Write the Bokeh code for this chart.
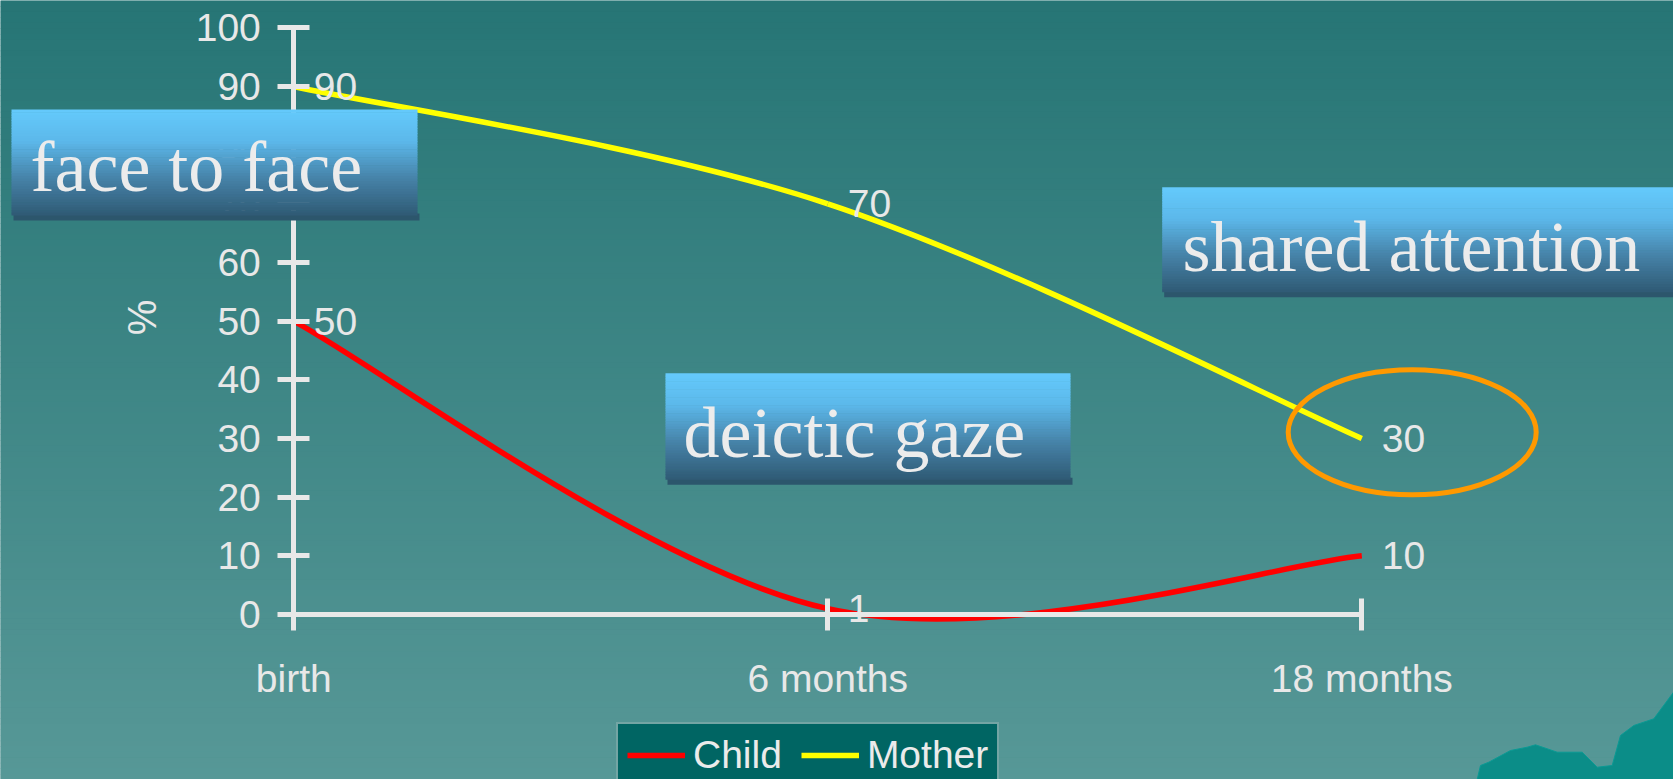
import math
from bokeh.plotting import figure
from bokeh.models import (Range1d, LinearAxis, FixedTicker, Legend, LegendItem)
from bokeh.core.properties import value
from bokeh.embed import file_html
from bokeh.resources import INLINE

# ---------------- data ----------------
categories = ["birth", "6 months", "18 months"]
child = [50, 1, 10]
mother = [90, 70, 30]
y_ticks = [0, 10, 20, 30, 40, 50, 60, 70, 80, 90, 100]
callouts = ["face to face", "deictic gaze", "shared attention"]

# ---------------- layout helpers (pixel -> data) ----------------
W, H = 1673, 779
X0PX, XUNIT = 293.3, 534.0
Y0PX, YUNIT = 614.0, 5.867


def dx(px):
    return (px - X0PX) / XUNIT


def dy(py):
    return (Y0PX - py) / YUNIT


def hex2rgb(h):
    h = h.lstrip("#")
    return tuple(int(h[i:i + 2], 16) for i in (0, 2, 4))


def interp(stops, t):
    for (t0, c0), (t1, c1) in zip(stops[:-1], stops[1:]):
        if t0 <= t <= t1:
            f = 0 if t1 == t0 else (t - t0) / (t1 - t0)
            a, b = hex2rgb(c0), hex2rgb(c1)
            return "#%02x%02x%02x" % tuple(int(round(a[i] + (b[i] - a[i]) * f)) for i in range(3))
    return stops[-1][1]


def bands(lpx, rpx, tpx, bpx, stops, n):
    L, R, T, B, C = [], [], [], [], []
    for i in range(n):
        y0 = tpx + (bpx - tpx) * i / n
        y1 = tpx + (bpx - tpx) * (i + 1) / n + 0.6
        L.append(dx(lpx)); R.append(dx(rpx))
        T.append(dy(y0)); B.append(dy(min(y1, bpx)))
        C.append(interp(stops, (i + 0.5) / n))
    return dict(left=L, right=R, top=T, bottom=B, color=C)


p = figure(width=W, height=H, x_range=Range1d(dx(0), dx(W)), y_range=Range1d(dy(H), dy(0)),
           min_border=0, output_backend="svg", toolbar_location=None,
           x_axis_location=None, y_axis_location=None)
p.outline_line_color = None
p.background_fill_color = "#3f8585"
p.border_fill_color = "#3f8585"

# background gradient
bg = bands(0, W, 0, H, [(0, "#267575"), (1, "#579897")], 140)
p.quad(left=bg["left"], right=bg["right"], top=bg["top"], bottom=bg["bottom"],
       fill_color=bg["color"], line_color=None, level="underlay")

# decorative terrain bottom-right
terr_px = [(1476.7, 779), (1480, 765), (1488.3, 761.7), (1510, 750), (1526.7, 746.7), (1535, 744.3),
           (1556.7, 751.7), (1581.7, 751.7), (1596.7, 766.7), (1611.7, 765), (1620, 735),
           (1633.3, 725), (1653.3, 718.3), (1673, 691.7), (1673, 779)]
p.patch([dx(a) for a, b in terr_px], [dy(b) for a, b in terr_px],
        fill_color="#0b8d88", line_color="#0a9a94", line_width=1, level="underlay")

# ---------------- smoothed lines (Catmull-Rom style bezier from the data) ----------------
xs = list(range(len(categories)))


def bez(vals):
    n = len(vals)
    out = dict(x0=[], y0=[], x1=[], y1=[], cx0=[], cy0=[], cx1=[], cy1=[])
    for i in range(n - 1):
        ip = max(i - 1, 0)
        inn = min(i + 2, n - 1)
        out["x0"].append(xs[i]); out["y0"].append(vals[i])
        out["x1"].append(xs[i + 1]); out["y1"].append(vals[i + 1])
        out["cx0"].append(xs[i] + (xs[i + 1] - xs[ip]) / 6)
        out["cy0"].append(vals[i] + (vals[i + 1] - vals[ip]) / 6)
        out["cx1"].append(xs[i + 1] - (xs[inn] - xs[i]) / 6)
        out["cy1"].append(vals[i + 1] - (vals[inn] - vals[i]) / 6)
    return out


r_child = p.bezier(line_color="#ff0000", line_width=5.5, **bez(child))
r_mother = p.bezier(line_color="#ffff00", line_width=5.5, **bez(mother))

label_font = value("Liberation Sans")
for vals in (child, mother):
    p.text(x=xs, y=vals, text=[str(v) for v in vals], x_offset=20, text_baseline="middle",
           text_align="left", text_font=label_font, text_font_size="39px", text_color="#e8e8e8")

# highlight ellipse round the last mother value
p.ellipse(x=[dx(1411.7)], y=[dy(431.7)], width=[248], height=[125], width_units="screen",
          height_units="screen", fill_color=None, line_color="#ff9900", line_width=5)

# ---------------- axes ----------------
axis_col = "#e8e8e8"
yaxis = LinearAxis(fixed_location=0, bounds=(0, 100), ticker=FixedTicker(ticks=y_ticks))
xaxis = LinearAxis(fixed_location=0, bounds=(0, len(categories) - 1), ticker=FixedTicker(ticks=xs),
                   major_label_overrides={i: c for i, c in enumerate(categories)})
for ax in (yaxis, xaxis):
    ax.axis_line_color = axis_col
    ax.axis_line_width = 5
    ax.major_tick_line_color = axis_col
    ax.major_tick_line_width = 5
    ax.major_tick_in = 16
    ax.major_tick_out = 16
    ax.minor_tick_line_color = None
    ax.major_label_text_font = "Liberation Sans"
    ax.major_label_text_font_size = "39px"
    ax.major_label_text_color = axis_col
yaxis.major_label_standoff = 17
xaxis.major_label_standoff = 26
p.add_layout(yaxis, "left")
p.add_layout(xaxis, "below")
for g in p.grid:
    g.visible = False
p.xgrid.grid_line_color = None
p.ygrid.grid_line_color = None

p.text(x=[dx(141)], y=[dy(317)], text=["%"], angle=math.pi / 2, text_align="center",
       text_baseline="middle", text_font=label_font, text_font_size="40px", text_color=axis_col)

# ---------------- call-out boxes ----------------
box_stops = [(0, "#64cafc"), (0.3, "#5cb8ea"), (0.65, "#4682a8"), (1, "#2f5a74")]
boxes_px = [(11, 417, 109, 215), (665, 1070, 372.7, 479.3), (1161.7, 1673, 186.7, 291.7)]
text_px = [(30, 191), (683, 457), (1182, 271)]
for (l, r, t, b), (tx, ty), txt in zip(boxes_px, text_px, callouts):
    sh = bands(l + 2, r + 2, b - 2, b + 5, [(0, "#2c566c"), (1, "#2c566c")], 1)
    p.quad(left=sh["left"], right=sh["right"], top=sh["top"], bottom=sh["bottom"],
           fill_color=sh["color"], line_color=None, level="overlay")
    g = bands(l, r, t, b, box_stops, 40)
    p.quad(left=g["left"], right=g["right"], top=g["top"], bottom=g["bottom"],
           fill_color=g["color"], line_color=None, level="overlay")
    p.text(x=[dx(tx)], y=[dy(ty - 25)], text=[txt], text_align="left", text_baseline="middle",
           text_font=value("Liberation Serif"), text_font_size="72px", text_color="#ececec",
           level="overlay")

# ---------------- legend ----------------
legend = Legend(items=[LegendItem(label="Child", renderers=[r_child]),
                       LegendItem(label="Mother", renderers=[r_mother])],
                orientation="horizontal", location=(616, -9), margin=0, padding=9,
                spacing=19, glyph_width=58, glyph_height=40, label_standoff=8,
                label_text_font="Liberation Sans", label_text_font_size="39px",
                label_text_color="#ebebeb", background_fill_color="#006563",
                background_fill_alpha=1, border_line_color="#e6e6e6", border_line_width=2)
p.add_layout(legend)

open("out.html", "w").write(file_html(p, INLINE))
